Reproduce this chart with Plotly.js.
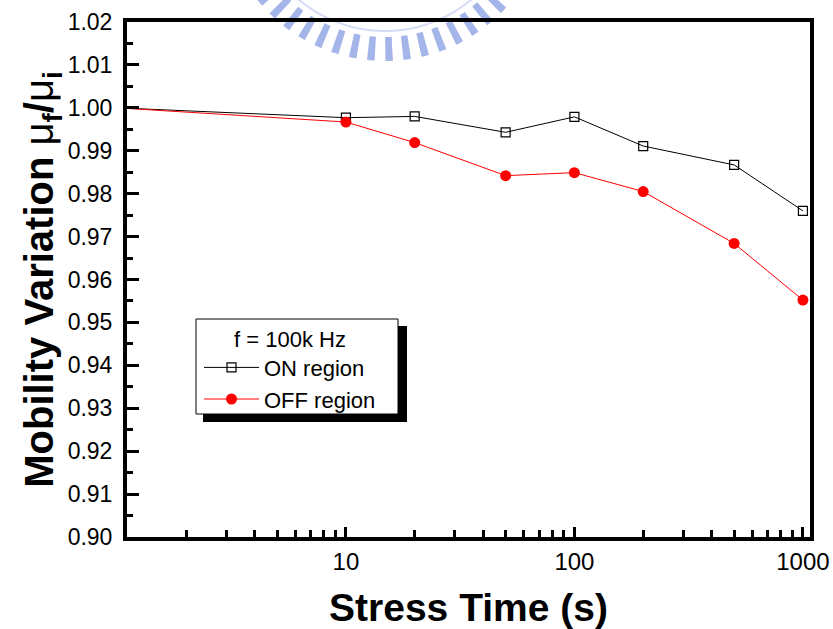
<!DOCTYPE html>
<html>
<head>
<meta charset="utf-8">
<script src="https://cdn.plot.ly/plotly-3.0.1.min.js"></script>
<style>html,body{margin:0;padding:0;background:#fff;}#chart{width:833px;height:629px;}</style>
</head>
<body>
<div id="chart"></div>
<script>
// Data
const stressTime = [1, 10, 20, 50, 100, 200, 500, 1000];
const onRegion  = [1.0000, 0.9977, 0.9980, 0.9943, 0.9979, 0.9911, 0.9867, 0.9760];
const offRegion = [1.0000, 0.9967, 0.9919, 0.9842, 0.9849, 0.9805, 0.9684, 0.9552];
const xTickVals = [10, 100, 1000];
const xTickText = ['10', '100', '1000'];
const yTickVals = [0.90,0.91,0.92,0.93,0.94,0.95,0.96,0.97,0.98,0.99,1.00,1.01,1.02];
const legendTitle = 'f = 100k Hz';
const seriesNames = ['ON region', 'OFF region'];

// layout geometry (pixels)
const W = 833, H = 629;
const M = {l: 127, r: 23, t: 22, b: 92};
const PW = W - M.l - M.r, PH = H - M.t - M.b;
const px = x => (x - M.l) / PW;
const py = y => (H - M.b - y) / PH;

const FONT = '"Liberation Sans", Arial, sans-serif';

// watermark arc (decoration)
function arcPath(cx, cy, r, a0, a1, n) {
  let d = '';
  for (let i = 0; i <= n; i++) {
    const a = (a0 + (a1 - a0) * i / n) * Math.PI / 180;
    const x = px(cx + r * Math.cos(a)), y = py(cy + r * Math.sin(a));
    d += (i === 0 ? 'M' : 'L') + x.toFixed(5) + ',' + y.toFixed(5);
  }
  return d;
}

const shapes = [
  {type: 'path', xref: 'paper', yref: 'paper', layer: 'below',
   path: arcPath(385, -103, 152, 36, 144, 80),
   line: {color: 'rgba(125,150,225,0.7)', width: 24, dash: '7px,10px'}},
  {type: 'path', xref: 'paper', yref: 'paper', layer: 'below',
   path: arcPath(385, -103, 134, 40, 140, 80),
   line: {color: 'rgba(160,178,232,0.45)', width: 2}},
  // legend shadow and box
  {type: 'rect', xref: 'paper', yref: 'paper', layer: 'above',
   x0: px(203), x1: px(407), y0: py(326), y1: py(422),
   fillcolor: '#000', line: {width: 0}},
  {type: 'rect', xref: 'paper', yref: 'paper', layer: 'above',
   x0: px(196), x1: px(398), y0: py(319), y1: py(414),
   fillcolor: '#fff', line: {color: '#000', width: 1}}
];

const traces = [
  {x: stressTime, y: onRegion, name: seriesNames[0], type: 'scatter', mode: 'lines+markers',
   line: {color: '#000', width: 1},
   marker: {symbol: 'square-open', size: 9, color: '#000', line: {width: 1.2}}},
  {x: stressTime, y: offRegion, name: seriesNames[1], type: 'scatter', mode: 'lines+markers',
   line: {color: '#ff0000', width: 1},
   marker: {symbol: 'circle', size: 11, color: '#ff0000'}}
];

const layout = {
  width: W, height: H,
  margin: M,
  paper_bgcolor: '#fff', plot_bgcolor: 'rgba(0,0,0,0)',
  font: {family: FONT, color: '#000', size: 22},
  showlegend: true,
  legend: {
    x: px(199), y: py(318), xanchor: 'left', yanchor: 'top',
    bgcolor: 'rgba(0,0,0,0)', borderwidth: 0,
    font: {family: FONT, size: 22, color: '#000'},
    title: {text: legendTitle, side: 'top center', font: {family: FONT, size: 22}},
    itemwidth: 55, tracegroupgap: 0
  },
  xaxis: {
    type: 'log', range: [0.042, 3.031],
    tickvals: xTickVals, ticktext: xTickText,
    ticks: 'inside', ticklen: 10, tickwidth: 3, tickcolor: '#000',
    minor: {ticks: 'inside', ticklen: 7, tickwidth: 3, tickcolor: '#000', dtick: 'D1'},
    showline: true, linewidth: 4, linecolor: '#000', mirror: true,
    showgrid: false, zeroline: false,
    tickfont: {family: FONT, size: 24},
    title: {text: '<b>Stress Time (s)</b>', font: {family: FONT, size: 39}, standoff: 22}
  },
  yaxis: {
    range: [0.90, 1.02],
    tickvals: yTickVals, tickformat: '.2f',
    ticks: 'inside', ticklen: 12, tickwidth: 3, tickcolor: '#000',
    minor: {ticks: 'inside', ticklen: 6, tickwidth: 3, tickcolor: '#000', dtick: 0.005},
    showline: true, linewidth: 4, linecolor: '#000', mirror: true,
    showgrid: false, zeroline: false,
    tickfont: {family: FONT, size: 23},
    ticklabelstandoff: 6,
    title: {text: '<b>Mobility Variation </b><span style="font-weight:normal">μ</span><b><sub>f</sub></b><b>/</b><span style="font-weight:normal">μ</span><b><sub>i</sub></b>',
            font: {family: FONT, size: 40}, standoff: 0}
  },
  shapes: shapes
};

Plotly.newPlot('chart', traces, layout, {staticPlot: true, displayModeBar: false});
</script>
</body>
</html>
